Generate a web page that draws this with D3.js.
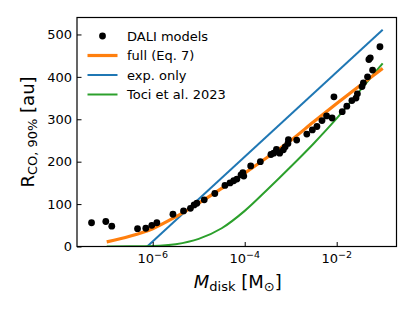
<!DOCTYPE html>
<html>
<head>
<meta charset="utf-8">
<script src="https://cdn.jsdelivr.net/npm/d3@7"></script>
<style>
  body { margin: 0; background: #fff; }
  svg text { font-family: "DejaVu Sans", sans-serif; fill: #000; }
</style>
</head>
<body>
<div id="chart"></div>
<script>
// DALI models: [log10 Mdisk, R_CO,90% in au]
var daliLogM = [-7.33, -7.02, -6.89, -6.33, -6.15, -6.02, -5.91, -5.56, -5.33, -5.18, -5.10, -5.04,
    -4.88, -4.65, -4.43, -4.32, -4.24, -4.17, -4.08, -4.04, -4.02, -3.87, -3.66, -3.43, -3.37,
    -3.31, -3.24, -3.16, -3.12, -3.06, -3.05, -2.87, -2.65, -2.53, -2.43, -2.32, -2.22, -2.10,
    -2.06, -1.88, -1.78, -1.67, -1.58, -1.55, -1.45, -1.42, -1.33, -1.22, -1.30, -1.27, -1.06];
var daliR = [56, 59, 48, 42, 43, 50, 56, 76, 84, 90, 98, 102,
    110, 125, 144, 150, 155, 159, 169, 174, 166, 190, 200, 217, 220,
    229, 220, 228, 235, 243, 252, 251, 265, 275, 283, 297, 308, 303,
    353, 318, 331, 344, 350, 360, 377, 386, 400, 416, 441, 445, 471];

// full (Eq. 7)
var fullLogM = [-7.0, -6.5, -6.0, -5.5, -5.0, -4.5, -4.0, -3.5, -3.0, -2.5, -2.0, -1.5, -1.0];
var fullR = [11, 24, 42, 70, 102, 137, 173, 211, 250, 294, 337, 379, 420];

// exp. only
var expLogM = [-6.12, -1.0];
var expR = [0, 511];

// Toci et al. 2023
var tociLogM = [-7.0, -6.5, -6.0, -5.5, -5.0, -4.5, -4.0, -3.5, -3.0, -2.5, -2.0, -1.5, -1.0];
var tociR = [0, 0.3, 1.2, 5.5, 18, 43, 84, 135, 188, 243, 302, 367, 432];

var yTicks = [0, 100, 200, 300, 400, 500];
var xTicks = [-6, -4, -2];

var W = 415, H = 311;
var margin = {top: 17.5, right: 18.5, bottom: 64.5, left: 77};
var width = W - margin.left - margin.right,
    height = H - margin.top - margin.bottom;

var svg = d3.select("#chart").append("svg")
    .attr("width", W)
    .attr("height", H);

var g = svg.append("g")
    .attr("transform", "translate(" + margin.left + "," + margin.top + ")");

var x = d3.scaleLog()
    .domain([Math.pow(10, -7.646), Math.pow(10, -0.70)])
    .range([0, width]);
var y = d3.scaleLinear()
    .domain([0, 540])
    .range([height, 0]);

g.append("clipPath").attr("id", "clip")
    .append("rect").attr("width", width).attr("height", height);

var plot = g.append("g").attr("clip-path", "url(#clip)");

function toPoints(lm, r) {
    return lm.map(function(d, i) { return [Math.pow(10, d), r[i]]; });
}

var line = d3.line()
    .x(function(d) { return x(d[0]); })
    .y(function(d) { return y(d[1]); })
    .curve(d3.curveMonotoneX);

// lines
plot.append("path").datum(toPoints(expLogM, expR))
    .attr("d", line).attr("fill", "none")
    .attr("stroke", "#1f77b4").attr("stroke-width", 2);
plot.append("path").datum(toPoints(tociLogM, tociR))
    .attr("d", line).attr("fill", "none")
    .attr("stroke", "#2ca02c").attr("stroke-width", 2);
plot.append("path").datum(toPoints(fullLogM, fullR))
    .attr("d", line).attr("fill", "none")
    .attr("stroke", "#ff7f0e").attr("stroke-width", 3.2);

// DALI dots
plot.selectAll("circle.dali")
    .data(toPoints(daliLogM, daliR))
    .enter().append("circle")
    .attr("class", "dali")
    .attr("cx", function(d) { return x(d[0]); })
    .attr("cy", function(d) { return y(d[1]); })
    .attr("r", 3.4)
    .attr("fill", "#000");

// axes
var xAxis = d3.axisBottom(x)
    .tickValues(xTicks.map(function(d) { return Math.pow(10, d); }))
    .tickSizeInner(-4.5).tickSizeOuter(0)
    .tickFormat("");
var yAxis = d3.axisLeft(y)
    .tickValues(yTicks)
    .tickSizeInner(-4.5).tickSizeOuter(0)
    .tickFormat("");

var gx = g.append("g").attr("transform", "translate(0," + height + ")").call(xAxis);
var gy = g.append("g").call(yAxis);
gx.select(".domain").remove();
gy.select(".domain").remove();
g.selectAll(".tick line").attr("stroke", "#000").attr("stroke-width", 1);

// frame
g.append("rect")
    .attr("width", width).attr("height", height)
    .attr("fill", "none").attr("stroke", "#000").attr("stroke-width", 1.2);

// y tick labels
yTicks.forEach(function(t) {
    g.append("text")
        .attr("x", -5).attr("y", y(t))
        .attr("dy", "0.36em")
        .attr("text-anchor", "end")
        .attr("font-size", 13)
        .text(t);
});

// x tick labels 10^n
xTicks.forEach(function(t) {
    var tx = g.append("text")
        .attr("x", x(Math.pow(10, t))).attr("y", height + 16.5)
        .attr("text-anchor", "middle")
        .attr("font-size", 13);
    tx.append("tspan").text("10");
    tx.append("tspan").attr("font-size", 9.5).attr("dy", -5.5).text("\u2212" + Math.abs(t));
});

// axis labels
var xl = svg.append("text")
    .attr("x", margin.left + width / 2 + 1)
    .attr("y", 288)
    .attr("text-anchor", "middle")
    .attr("font-size", 18);
xl.append("tspan").attr("font-style", "italic").text("M");
xl.append("tspan").attr("font-size", 13).attr("dy", 3).text("disk");
xl.append("tspan").attr("dy", -3).text(" [M");
xl.append("tspan").attr("font-size", 13).attr("dy", 3).text("\u2299");
xl.append("tspan").attr("dy", -3).text("]");

var yl = svg.append("text")
    .attr("transform", "translate(34," + (margin.top + height / 2) + ") rotate(-90)")
    .attr("text-anchor", "middle")
    .attr("font-size", 18);
yl.append("tspan").text("R");
yl.append("tspan").attr("font-size", 13).attr("dy", 3).text("CO, 90%");
yl.append("tspan").attr("dy", -3).text(" [au]");

// legend
var legendItems = [
    {label: "DALI models", type: "dot", color: "#000"},
    {label: "full (Eq. 7)", type: "line", color: "#ff7f0e", w: 3.2},
    {label: "exp. only", type: "line", color: "#1f77b4", w: 2},
    {label: "Toci et al. 2023", type: "line", color: "#2ca02c", w: 2}
];
var lg = svg.append("g");
legendItems.forEach(function(d, i) {
    var ly = 36 + i * 19.5;
    if (d.type === "dot") {
        lg.append("circle").attr("cx", 102.5).attr("cy", ly).attr("r", 3.4).attr("fill", d.color);
    } else {
        lg.append("line").attr("x1", 87.5).attr("x2", 117.5)
            .attr("y1", ly).attr("y2", ly)
            .attr("stroke", d.color).attr("stroke-width", d.w);
    }
    lg.append("text").attr("x", 127).attr("y", ly).attr("dy", "0.36em")
        .attr("font-size", 13).text(d.label);
});
</script>
</body>
</html>
